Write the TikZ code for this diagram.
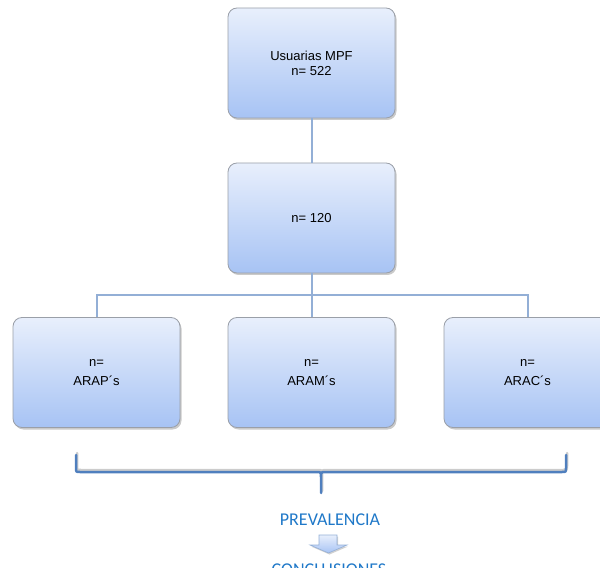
\documentclass[tikz,border=0pt]{standalone}
\usepackage{fontspec}
\setmainfont{Liberation Sans}
\newfontfamily\calib{Carlito}
\usetikzlibrary{shadows}
\definecolor{boxtop}{HTML}{E8EFFC}
\definecolor{boxbot}{HTML}{A7C3F4}
\definecolor{boxline}{HTML}{9A9FA8}
\definecolor{conn}{HTML}{93AFD6}
\definecolor{brace}{HTML}{4F7FBE}
\definecolor{txtblue}{HTML}{1F78C8}
\tikzset{
  flowbox/.style={rectangle, rounded corners=9pt, draw=boxline, line width=0.8pt,
    top color=boxtop, bottom color=boxbot, minimum width=167pt, minimum height=110pt,
    align=center, font=\fontsize{13}{15}\selectfont,
    drop shadow={shadow xshift=1.5pt, shadow yshift=-2pt, opacity=0.35, fill=black!60}},
  leafbox/.style={flowbox, font=\fontsize{13}{19}\selectfont},
  connector/.style={draw=conn, line width=2pt},
  bluetext/.style={text=txtblue, font=\calib\fontsize{18}{20}\selectfont}
}
\begin{document}
\begin{tikzpicture}[x=1pt,y=-1pt]
\useasboundingbox (0,0) rectangle (600,569);
\node[flowbox] (top) at (311.5,63) {Usuarias MPF\\n= 522};
\node[flowbox] (mid) at (311.5,218) {n= 120};
\node[leafbox] (l) at (96.5,372.5) {n=\\ARAP´s};
\node[leafbox] (m) at (311.5,372.5) {n=\\ARAM´s};
\node[leafbox] (r) at (527.5,372.5) {n=\\ARAC´s};
\coordinate (bus) at (311.5,295);
\draw[connector] (top.south) -- (mid.north);
\draw[connector] (mid.south) -- (bus);
\draw[connector] (l.north) |- (bus) -| (r.north);
\draw[connector] (bus) -- (m.north);
% brace
\draw[gray!40, line width=2.5pt, line cap=round, line join=round, xshift=1pt, yshift=2pt]
  (76,455) -- (76,468) .. controls (76,472) .. (80,472) -- (316,472) .. controls (321,472) .. (321,477) -- (321,493)
  (566,455) -- (566,468) .. controls (566,472) .. (562,472) -- (326,472) .. controls (321,472) .. (321,477);
\draw[brace, line width=2.5pt, line cap=round, line join=round]
  (76,455) -- (76,468) .. controls (76,472) .. (80,472) -- (316,472) .. controls (321,472) .. (321,477) -- (321,493)
  (566,455) -- (566,468) .. controls (566,472) .. (562,472) -- (326,472) .. controls (321,472) .. (321,477);
\node[bluetext] (prev) at (330,520) {PREVALENCIA};
\begin{scope}
  \clip (0,555) rectangle (600,567);
  \node[bluetext, anchor=north] (conc) at (329,560) {CONCLUSIONES};
\end{scope}
\draw[draw=conn, line width=0.6pt, top color=boxtop, bottom color=boxbot,
  drop shadow={shadow xshift=1pt, shadow yshift=-1.5pt, opacity=0.3, fill=black!60}]
  (319,535) -- (337,535) -- (337,545) -- (347,545) -- (328.5,553) -- (310,545) -- (319,545) -- cycle;
\end{tikzpicture}
\end{document}
